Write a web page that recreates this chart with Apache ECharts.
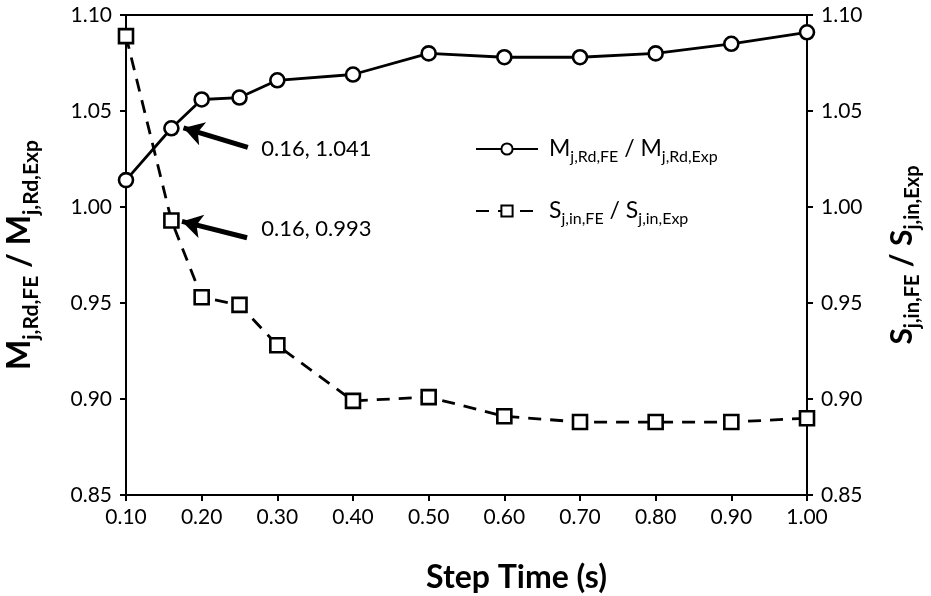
<!DOCTYPE html>
<html>
<head>
<meta charset="utf-8">
<script src="https://cdn.jsdelivr.net/npm/echarts@6/dist/echarts.min.js"></script>
<style>
  html, body { margin: 0; padding: 0; background: #fff; }
  #chart { width: 931px; height: 596px; }
</style>
</head>
<body>
<div id="chart"></div>
<script>
// step time (s)
const stepTime = [0.10, 0.16, 0.20, 0.25, 0.30, 0.40, 0.50, 0.60, 0.70, 0.80, 0.90, 1.00];
// M_j,Rd,FE / M_j,Rd,Exp
const momentRatio = [1.014, 1.041, 1.056, 1.057, 1.066, 1.069, 1.080, 1.078, 1.078, 1.080, 1.085, 1.091];
// S_j,in,FE / S_j,in,Exp
const stiffRatio = [1.089, 0.993, 0.953, 0.949, 0.928, 0.899, 0.901, 0.891, 0.888, 0.888, 0.888, 0.890];

const font = 'Lato';

// rich text styles for subscripts: main text centred, subscripts pushed down by top padding
function richStyles(size, subSize, weight) {
  const lh = Math.round(size * 1.4);
  return {
    b: { fontSize: size, fontWeight: weight, lineHeight: lh, verticalAlign: 'middle' },
    s: { fontSize: subSize, fontWeight: weight, lineHeight: subSize, padding: [lh - subSize, 0, 0, 0], verticalAlign: 'middle' }
  };
}
const mLabel = '{b|M}{s|j,Rd,FE}{b| / M}{s|j,Rd,Exp}';
const sLabel = '{b|S}{s|j,in,FE}{b| / S}{s|j,in,Exp}';

const chart = echarts.init(document.getElementById('chart'));

const pairs = (xs, ys) => xs.map((x, i) => [x, ys[i]]);

const axisCommon = {
  axisLine: { show: true, lineStyle: { color: '#000', width: 2 } },
  axisTick: { show: true, length: 6, lineStyle: { color: '#000', width: 2 } },
  splitLine: { show: false }
};

chart.setOption({
  animation: false,
  textStyle: { fontFamily: font, color: '#000' },
  grid: {
    left: 126, right: 124, top: 15, bottom: 101, containLabel: false, outerBoundsMode: 'none',
    show: true, borderColor: '#000', borderWidth: 2
  },
  legend: {
    orient: 'vertical', left: 470, top: 128, itemGap: 30,
    itemWidth: 62, itemHeight: 14,
    textStyle: { color: '#000', padding: [0, 0, 0, 6], rich: richStyles(23, 16, 'normal') },
    formatter: name => (name === 'M' ? mLabel : sLabel)
  },
  xAxis: Object.assign({}, axisCommon, {
    type: 'value', min: 0.1, max: 1.0, interval: 0.1,
    name: 'Step Time (s)', nameLocation: 'middle', nameGap: 67,
    nameTextStyle: { fontSize: 32, fontWeight: 'bold', fontFamily: font, padding: [0, 0, 0, 100] },
    axisLabel: { fontSize: 21, color: '#000', margin: 12, formatter: v => v.toFixed(2) }
  }),
  yAxis: [
    Object.assign({}, axisCommon, {
      type: 'value', min: 0.85, max: 1.10, interval: 0.05, position: 'left',
      name: mLabel, nameLocation: 'middle', nameGap: 84,
      nameTextStyle: { rich: richStyles(32, 21, 'bold') },
      axisLabel: { fontSize: 21, color: '#000', margin: 14, formatter: v => v.toFixed(2) }
    }),
    Object.assign({}, axisCommon, {
      type: 'value', min: 0.85, max: 1.10, interval: 0.05, position: 'right',
      name: sLabel, nameLocation: 'middle', nameGap: 74, nameRotate: 90,
      nameTextStyle: { rich: richStyles(30, 20, 'bold') },
      axisLabel: { fontSize: 21, color: '#000', margin: 14, formatter: v => v.toFixed(2) }
    })
  ],
  series: [
    {
      name: 'M', type: 'line', yAxisIndex: 0,
      data: pairs(stepTime, momentRatio),
      symbol: 'circle', symbolSize: 14, showAllSymbol: true,
      lineStyle: { color: '#000', width: 2.8 },
      itemStyle: { color: '#fff', borderColor: '#000', borderWidth: 2.6 },
      markLine: {
        silent: true, symbol: ['none', 'arrow'], symbolSize: [18, 20],
        lineStyle: { color: '#000', width: 5, type: 'solid' },
        label: { show: false },
        data: [[{ coord: [0.261, 1.031] }, { coord: [0.176, 1.0412] }]]
      },
      markPoint: {
        silent: true, symbol: 'circle', symbolSize: 1,
        itemStyle: { color: 'rgba(0,0,0,0)' },
        label: { show: true, position: 'right', distance: 0, fontSize: 22, color: '#000', formatter: '0.16, 1.041' },
        data: [{ coord: [0.278, 1.0305] }]
      }
    },
    {
      name: 'S', type: 'line', yAxisIndex: 1,
      data: pairs(stepTime, stiffRatio),
      symbol: 'rect', symbolSize: 14, showAllSymbol: true,
      lineStyle: { color: '#000', width: 2.8, type: [13, 9] },
      itemStyle: { color: '#fff', borderColor: '#000', borderWidth: 2.6 },
      markLine: {
        silent: true, symbol: ['none', 'arrow'], symbolSize: [18, 20],
        lineStyle: { color: '#000', width: 5, type: 'solid' },
        label: { show: false },
        data: [[{ coord: [0.26, 0.984] }, { coord: [0.174, 0.9925] }]]
      },
      markPoint: {
        silent: true, symbol: 'circle', symbolSize: 1,
        itemStyle: { color: 'rgba(0,0,0,0)' },
        label: { show: true, position: 'right', distance: 0, fontSize: 22, color: '#000', formatter: '0.16, 0.993' },
        data: [{ coord: [0.278, 0.9885] }]
      }
    }
  ]
});
</script>
</body>
</html>
